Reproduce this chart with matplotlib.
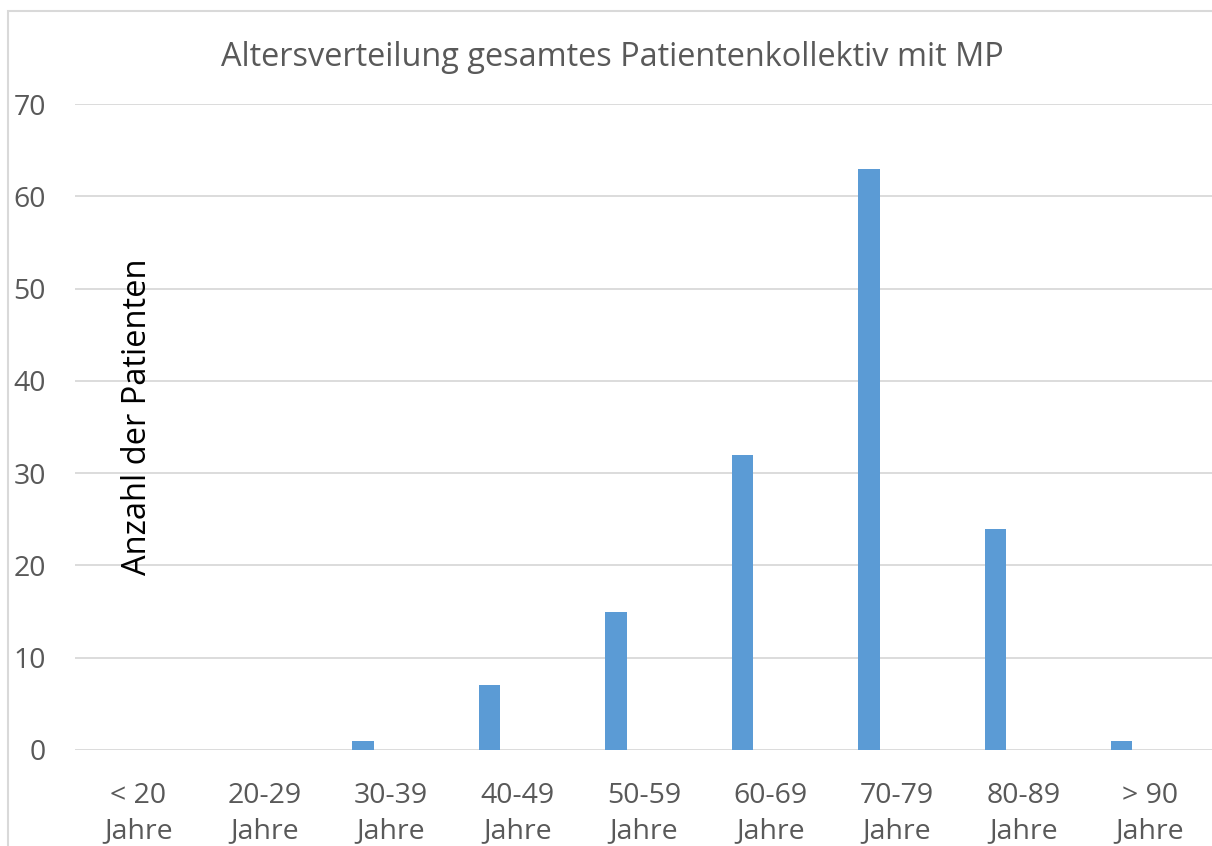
import matplotlib
matplotlib.use("Agg")
import matplotlib.pyplot as plt
from matplotlib.patches import Rectangle

categories = ["< 20\nJahre", "20-29\nJahre", "30-39\nJahre", "40-49\nJahre", "50-59\nJahre",
              "60-69\nJahre", "70-79\nJahre", "80-89\nJahre", "> 90\nJahre"]
patients = [0, 0, 1, 7, 15, 32, 63, 24, 1]
y_ticks = [0, 10, 20, 30, 40, 50, 60, 70]

plt.rcParams['font.family'] = ['Open Sans', 'DejaVu Sans']
grey = '#595959'

fig = plt.figure(figsize=(12.12, 8.46), dpi=100)
W, H = 1212, 846

# outer chart border (Excel style)
fig.patches.append(Rectangle((8 / W, -0.1), 1.2, 1 - 11 / H + 0.1, transform=fig.transFigure,
                             fill=False, edgecolor='#d9d9d9', linewidth=1.5))

ax = fig.add_axes([75 / W, 1 - 750 / H, (1213 - 75) / W, (750 - 104) / H])
x = list(range(len(categories)))
ax.bar([i - 0.222 for i in x], patients, width=0.17, color='#5B9BD5', zorder=3)

ax.set_xlim(-0.5, len(categories) - 0.5)
ax.set_ylim(0, 70)
ax.set_yticks(y_ticks)
ax.set_xticks(x)
ax.set_xticklabels(categories, color=grey, fontsize=20.5, linespacing=1.32)
ax.set_yticklabels([str(t) for t in y_ticks], color=grey, fontsize=20.5)
ax.tick_params(axis='both', length=0)
ax.tick_params(axis='x', pad=23)
ax.tick_params(axis='y', pad=21)
ax.yaxis.grid(True, color='#d9d9d9', linewidth=1.3, zorder=0)
ax.set_axisbelow(True)
for s in ax.spines.values():
    s.set_visible(False)
ax.patch.set_alpha(0)

fig.text(612 / W, 1 - 58 / H, "Altersverteilung gesamtes Patientenkollektiv mit MP",
         ha='center', va='center', fontsize=23.4, color=grey)
fig.text(137 / W, 1 - 417 / H, "Anzahl der Patienten", rotation=90,
         ha='center', va='center', fontsize=23.5, color='black')

fig.savefig("out.png", dpi=100)
